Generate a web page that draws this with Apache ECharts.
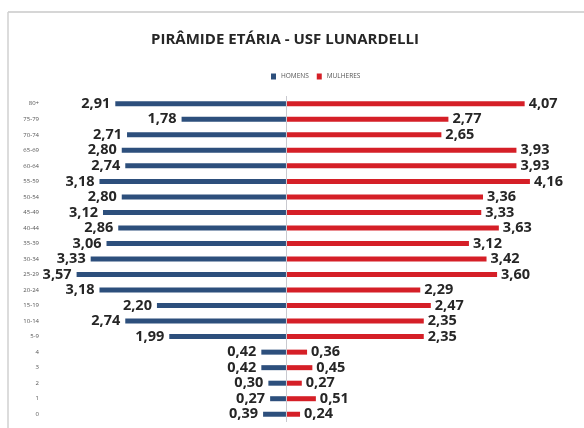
<!DOCTYPE html>
<html>
<head>
<meta charset="utf-8">
<script src="https://cdn.jsdelivr.net/npm/echarts@6/dist/echarts.min.js"></script>
<style>
  html, body { margin: 0; padding: 0; background: #fff; }
  #main { width: 584px; height: 428px; }
</style>
</head>
<body>
<div id="main"></div>
<script>
// faixas etárias (de cima para baixo)
let faixas = ['80+', '75-79', '70-74', '65-69', '60-64', '55-59', '50-54', '45-49', '40-44', '35-39',
  '30-34', '25-29', '20-24', '15-19', '10-14', '5-9', '4', '3', '2', '1', '0']

let homens = [2.91, 1.78, 2.71, 2.80, 2.74, 3.18, 2.80, 3.12, 2.86, 3.06,
  3.33, 3.57, 3.18, 2.20, 2.74, 1.99, 0.42, 0.42, 0.30, 0.27, 0.39]

let mulheres = [4.07, 2.77, 2.65, 3.93, 3.93, 4.16, 3.36, 3.33, 3.63, 3.12,
  3.42, 3.60, 2.29, 2.47, 2.35, 2.35, 0.36, 0.45, 0.27, 0.51, 0.24]

let myChart = echarts.init(document.getElementById('main'))

function fmt(p) {
  return Math.abs(p.value).toFixed(2).replace('.', ',')
}

let labelStyle = {
  show: true,
  formatter: fmt,
  fontFamily: 'Open Sans',
  fontWeight: 'bold',
  fontSize: 14.5,
  color: '#262626'
}

var option = {
  backgroundColor: '#fff',
  animation: false,
  title: {
    text: 'PIRÂMIDE ETÁRIA - USF LUNARDELLI',
    left: 280,
    textAlign: 'center',
    top: 27,
    textStyle: {
      fontFamily: 'Open Sans',
      fontSize: 15,
      fontWeight: 'bold',
      color: '#262626'
    }
  },
  legend: {
    top: 68,
    left: 266,
    itemWidth: 5,
    itemHeight: 6,
    itemGap: 8,
    icon: 'rect',
    textStyle: {
      fontFamily: 'Open Sans',
      fontSize: 6.5,
      color: '#555'
    },
    data: ['HOMENS', 'MULHERES']
  },
  grid: {
    left: 42,
    right: 40,
    top: 96,
    bottom: 6
  },
  xAxis: {
    type: 'value',
    min: -4.16,
    max: 4.4,
    show: false
  },
  yAxis: {
    type: 'category',
    data: faixas,
    inverse: true,
    axisLine: { show: false, onZero: false },
    axisTick: { show: false },
    axisLabel: {
      fontFamily: 'Open Sans',
      fontSize: 6,
      color: '#555',
      margin: 3
    }
  },
  series: [
    {
      name: 'HOMENS',
      type: 'bar',
      stack: 'total',
      barWidth: 5,
      itemStyle: { color: '#2D4F7C' },
      label: Object.assign({ position: 'left', distance: 5 }, labelStyle),
      data: homens.map(function (v) { return -v }),
      markLine: {
        silent: true,
        symbol: 'none',
        label: { show: false },
        lineStyle: { color: '#c9c9cf', width: 1, type: 'solid' },
        data: [{ xAxis: 0 }]
      }
    },
    {
      name: 'MULHERES',
      type: 'bar',
      stack: 'total',
      barWidth: 5,
      itemStyle: { color: '#D51F27' },
      label: Object.assign({ position: 'right', distance: 4 }, labelStyle),
      data: mulheres
    }
  ],
  graphic: [
    {
      type: 'line',
      shape: { x1: 8, y1: 12, x2: 584, y2: 12 },
      style: { stroke: '#c8c8c8', lineWidth: 1.5 }
    },
    {
      type: 'line',
      shape: { x1: 8, y1: 12, x2: 8, y2: 428 },
      style: { stroke: '#d0d0d0', lineWidth: 1.5 }
    }
  ]
}

myChart.setOption(option)
</script>
</body>
</html>
